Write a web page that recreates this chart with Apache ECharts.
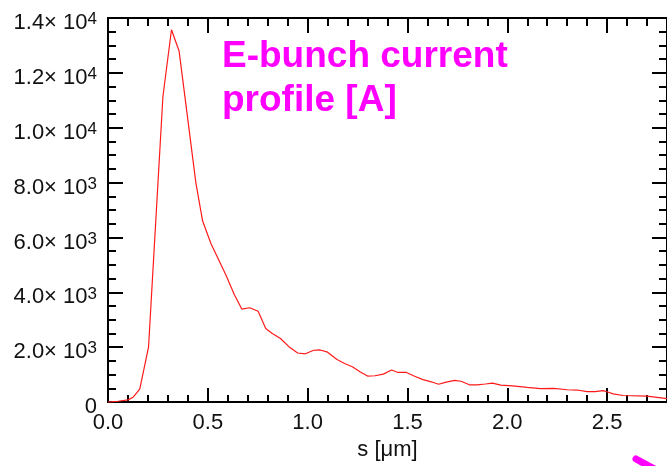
<!DOCTYPE html>
<html>
<head>
<meta charset="utf-8">
<script src="https://cdn.jsdelivr.net/npm/echarts@6/dist/echarts.min.js"></script>
<style>
  html, body { margin: 0; padding: 0; background: #fff; }
  #main { width: 667px; height: 466px; }
</style>
</head>
<body>
<div id="main"></div>
<script>
// s [um] positions
var sPos = [0, 0.05, 0.1, 0.126, 0.159, 0.203, 0.275, 0.318, 0.356, 0.44, 0.474, 0.516, 0.55, 0.59,
  0.632, 0.67, 0.71, 0.752, 0.79, 0.823, 0.864, 0.906, 0.95, 0.989, 1.03, 1.063, 1.10, 1.147,
  1.188, 1.224, 1.262, 1.30, 1.337, 1.379, 1.42, 1.453, 1.495, 1.536, 1.578, 1.619, 1.656,
  1.694, 1.736, 1.769, 1.81, 1.848, 1.89, 1.926, 1.968, 2.026, 2.10, 2.167, 2.233, 2.30,
  2.35, 2.40, 2.44, 2.48, 2.507, 2.53, 2.58, 2.70, 2.80];
// current [A]
var current = [0, 30, 80, 180, 475, 2000, 11130, 13570, 12800, 8000, 6600, 5770, 5250, 4640,
  3930, 3390, 3440, 3310, 2680, 2500, 2320, 2020, 1790, 1760, 1890, 1900, 1820, 1550,
  1400, 1290, 1110, 950, 960, 1020, 1170, 1080, 1080, 940, 820, 740, 650,
  730, 790, 760, 630, 630, 660, 690, 620, 590, 535, 490, 500, 450,
  440, 380, 380, 420, 360, 300, 240, 215, 130];

var xLabels = ['0.0', '0.5', '1.0', '1.5', '2.0', '2.5'];
var titleLines = ['E-bunch current', 'profile [A]'];

var chart = echarts.init(document.getElementById('main'));
var font = '"Liberation Sans", Arial, sans-serif';

var points = sPos.map(function (s, i) { return [s, current[i]]; });

function yFmt(v) {
  if (v === 0) return '{m|0}';
  var e = Math.floor(Math.log10(v) + 1e-9);
  var m = (v / Math.pow(10, e)).toFixed(1);
  return '{m|' + m + '× 10}{e|' + e + '}';
}

var axisLine = { show: true, onZero: false, lineStyle: { color: '#000', width: 2 } };

// x axes: 0 bottom major, 1 bottom minor, 2 top major, 3 top minor
function xAx(pos, interval, tick, labels) {
  return {
    type: 'value', position: pos, min: 0, max: 2.8, interval: interval,
    axisLine: axisLine,
    axisTick: { show: true, inside: true, length: tick, lineStyle: { color: '#000', width: 2 } },
    axisLabel: labels ? {
      show: true, margin: 10, showMaxLabel: false,
      fontFamily: font, fontSize: 22, color: '#111',
      formatter: function (v) { var i = Math.round(v / 0.5); return Math.abs(v - i * 0.5) < 1e-6 ? xLabels[i] : ''; }
    } : { show: false },
    splitLine: { show: false }
  };
}

var xAxes = [xAx('bottom', 0.5, 14, true), xAx('bottom', 0.1, 7, false),
             xAx('top', 0.5, 15, false), xAx('top', 0.1, 8, false)];
xAxes[0].name = 's [\u03bcm]';
xAxes[0].nameLocation = 'middle';
xAxes[0].nameGap = 33;
xAxes[0].nameTextStyle = { fontFamily: font, fontSize: 22, color: '#111' };

function yAx(pos, labels) {
  return {
    type: 'value', position: pos, min: 0, max: 14000, interval: 2000,
    axisLine: axisLine,
    axisTick: { show: true, inside: true, length: 15, lineStyle: { color: '#000', width: 2 } },
    minorTick: { show: true, splitNumber: 4, length: 8, lineStyle: { color: '#000', width: 2 } },
    axisLabel: labels ? {
      show: true, margin: 11, formatter: yFmt, padding: [10, 0, 0, 0],
      rich: {
        m: { fontFamily: font, fontSize: 22, color: '#111', lineHeight: 24 },
        e: { fontFamily: font, fontSize: 17, color: '#111', verticalAlign: 'top', lineHeight: 17 }
      }
    } : { show: false },
    splitLine: { show: false },
    minorSplitLine: { show: false }
  };
}

var option = {
  animation: false,
  backgroundColor: '#fff',
  grid: { left: 108, right: -3, top: 18, bottom: 56, containLabel: false },
  title: {
    text: titleLines.join('\n'),
    left: 222, top: 35, padding: 0,
    textStyle: { fontFamily: font, fontSize: 37, fontWeight: 'bold', color: '#ff00ff', lineHeight: 44 }
  },
  xAxis: xAxes,
  yAxis: [yAx('left', true), yAx('right', false)],
  series: [{
    type: 'line',
    data: points,
    xAxisIndex: 0, yAxisIndex: 0,
    showSymbol: false,
    lineStyle: { color: '#ff1a1a', width: 1.2 },
    z: 1
  }],
  graphic: [{
    type: 'line',
    shape: { x1: 636, y1: 459, x2: 660, y2: 472 },
    style: { stroke: '#ff00ff', lineWidth: 7, lineCap: 'round' }
  }]
};

chart.setOption(option);
</script>
</body>
</html>
